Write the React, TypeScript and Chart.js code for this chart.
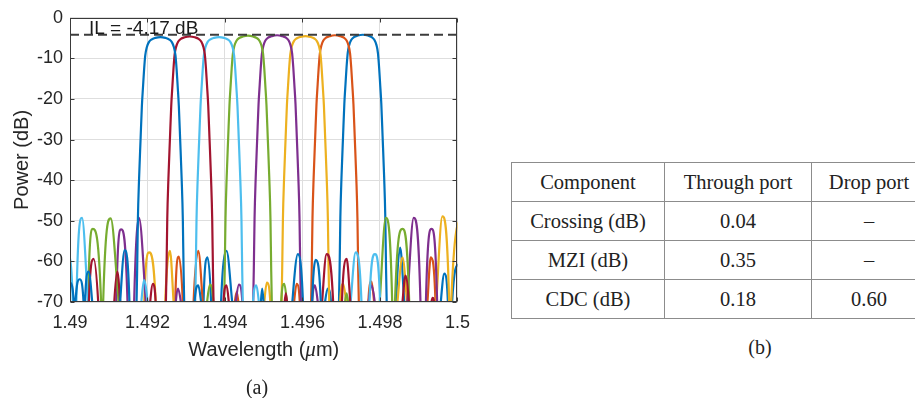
import { useEffect, useRef } from 'react';
import { Chart, registerables } from 'chart.js';

Chart.register(...registerables);

// ---------- axes ----------
const xTickValues = [1.49, 1.492, 1.494, 1.496, 1.498, 1.5];
const xTickLabels = ['1.49', '1.492', '1.494', '1.496', '1.498', '1.5'];
const yTickValues = [-70, -60, -50, -40, -30, -20, -10, 0];
const yTickLabels = ['-70', '-60', '-50', '-40', '-30', '-20', '-10', '0'];

// ---------- insertion-loss reference ----------
const insertionLossDb = -4.17;
const ilLineX = [1.49, 1.5];
const ilLabel = 'IL = -4.17 dB';

// ---------- channels (drawing order: first is on top) ----------
const channelColors = ['#0072BD', '#A2142F', '#4DBEEE', '#77AC30', '#7E2F8E', '#EDB120', '#D95319', '#0072BD'];
const channelCenters = [1.492332, 1.49309, 1.493845, 1.494593, 1.495343, 1.496075, 1.496838, 1.497557];
const channelPeaks = [-4.75, -4.6, -4.75, -4.4, -4.3, -4.5, -4.3, -4.17];

// main-lobe profile (offset from centre in µm, level relative to peak in dB)
const mainLobeOffsets = [0, 0.00013, 0.00023, 0.0003, 0.00035, 0.00039, 0.00042, 0.000446, 0.000477, 0.00051, 0.00055, 0.00058, 0.0006, 0.00062];
const mainLobeRelDb = [0, -0.2, -0.6, -1.3, -2.5, -4.5, -8, -12, -17, -25, -35, -45, -58, -68];

// side lobes: [left foot, peak wavelength, peak dB, right foot]
const sideLobesCh1 = [
  [1.4899, 1.49, -65.3, 1.49011],
  [1.49013, 1.49025, -64.4, 1.49036],
  [1.49038, 1.49048, -62.5, 1.49059],
  [1.49128, 1.49141, -57.2, 1.49154],
  [1.4932, 1.49331, -65.9, 1.49341],
  [1.49491, 1.49496, -66.7, 1.49501],
  [1.49572, 1.49588, -58.2, 1.49602],
  [1.49624, 1.49634, -59.6, 1.49648],
];
const sideLobesCh2 = [
  [1.49048, 1.49061, -59.4, 1.49074],
  [1.49113, 1.49122, -62.5, 1.49131],
  [1.49205, 1.49214, -65.5, 1.49222],
  [1.49395, 1.49404, -65.9, 1.49412],
  [1.49552, 1.49557, -67.9, 1.49562],
  [1.49649, 1.49662, -58.2, 1.4968],
  [1.49701, 1.49714, -59.4, 1.49725],
  [1.49856, 1.49866, -63.5, 1.49876],
  [1.4993, 1.49936, -69, 1.49941],
];
const sideLobesCh3 = [
  [1.48985, 1.48995, -58.5, 1.49008],
  [1.49016, 1.49031, -49.3, 1.49048],
  [1.49182, 1.49191, -64.6, 1.49203],
  [1.49471, 1.49481, -65.9, 1.4949],
  [1.49722, 1.49737, -57.8, 1.49753],
  [1.49772, 1.49787, -58.2, 1.49801],
];
const sideLobesCh4 = [
  [1.49046, 1.49059, -52, 1.49081],
  [1.49085, 1.49105, -49.4, 1.49128],
  [1.49351, 1.49361, -65.7, 1.49371],
  [1.49544, 1.49553, -65.5, 1.49562],
  [1.49707, 1.49714, -67.9, 1.4972],
  [1.49798, 1.49815, -49.3, 1.49832],
  [1.49838, 1.49858, -52, 1.49876],
];
const sideLobesCh5 = [
  [1.49119, 1.49132, -52.1, 1.49149],
  [1.49165, 1.49178, -49.3, 1.49197],
  [1.49271, 1.49279, -66.7, 1.49289],
  [1.49425, 1.49436, -65.7, 1.49446],
  [1.49624, 1.49632, -65.9, 1.49642],
  [1.49768, 1.49778, -65.9, 1.49789],
  [1.49869, 1.49887, -49.3, 1.49905],
  [1.49918, 1.49933, -52, 1.49948],
];
const sideLobesCh6 = [
  [1.49191, 1.49204, -57.8, 1.49222],
  [1.49245, 1.49258, -57.4, 1.49269],
  [1.49499, 1.49508, -65.2, 1.49518],
  [1.49696, 1.49705, -65.5, 1.49715],
  [1.49843, 1.49858, -59, 1.49871],
  [1.49944, 1.49961, -48.9, 1.49979],
  [1.49983, 1.5001, -50, 1.50035],
];
const sideLobesCh7 = [
  [1.49271, 1.49281, -58.8, 1.49292],
  [1.49318, 1.49331, -57.4, 1.49344],
  [1.49423, 1.4943, -67.5, 1.49437],
  [1.49576, 1.49585, -65.5, 1.49594],
  [1.49769, 1.49778, -65, 1.49787],
  [1.49921, 1.49931, -59, 1.49944],
];
const sideLobesCh8 = [
  [1.49344, 1.49355, -59, 1.49365],
  [1.49389, 1.49404, -57.4, 1.49421],
  [1.49655, 1.49665, -66.7, 1.49675],
  [1.49841, 1.49852, -56.6, 1.49864],
  [1.49955, 1.49966, -63, 1.49976],
  [1.49985, 1.50003, -60.8, 1.5002],
];
const sideLobes = [sideLobesCh1, sideLobesCh2, sideLobesCh3, sideLobesCh4, sideLobesCh5, sideLobesCh6, sideLobesCh7, sideLobesCh8];

// ---------- table ----------
const tableHeader = ['Component', 'Through port', 'Drop port'];
const tableRows = [
  ['Crossing (dB)', '0.04', '–'],
  ['MZI (dB)', '0.35', '–'],
  ['CDC (dB)', '0.18', '0.60'],
];

const FOOT_DB = -72;
const NULL_DB = -120;

type Pt = { x: number; y: number };

function channelPoints(ch: number): Pt[] {
  const c = channelCenters[ch];
  const p = channelPeaks[ch];
  const main: Pt[] = [];
  for (let i = mainLobeOffsets.length - 1; i > 0; i--) main.push({ x: c - mainLobeOffsets[i], y: p + mainLobeRelDb[i] });
  for (let i = 0; i < mainLobeOffsets.length; i++) main.push({ x: c + mainLobeOffsets[i], y: p + mainLobeRelDb[i] });
  const groups: Pt[][] = sideLobes[ch].map(([a, px, py, b]) => [
    { x: a, y: FOOT_DB },
    { x: px, y: py },
    { x: b, y: FOOT_DB },
  ]);
  groups.push(main);
  groups.sort((g1, g2) => g1[0].x - g2[0].x);
  const pts: Pt[] = [];
  groups.forEach((g, i) => {
    if (i === 0) pts.push({ x: g[0].x - 0.00003, y: NULL_DB });
    else {
      const prev = groups[i - 1];
      pts.push({ x: (prev[prev.length - 1].x + g[0].x) / 2, y: NULL_DB });
    }
    pts.push(...g);
  });
  const last = groups[groups.length - 1];
  pts.push({ x: last[last.length - 1].x + 0.00003, y: NULL_DB });
  return pts;
}

const SANS = '"Liberation Sans", Arial, Helvetica, sans-serif';
const SERIF = '"Liberation Serif", "Times New Roman", serif';

const framePlugin = {
  id: 'matlabFrame',
  afterDatasetsDraw(chart: any) {
    const { ctx, chartArea } = chart;
    const { left, right, top, bottom } = chartArea;
    const xs = chart.scales.x;
    const ys = chart.scales.y;
    ctx.save();
    ctx.strokeStyle = '#3a3a3a';
    ctx.lineWidth = 1;
    const L = Math.round(left) + 0.5;
    const R = Math.round(right) - 0.5;
    const T = Math.round(top) + 0.5;
    const B = Math.round(bottom) - 0.5;
    ctx.strokeRect(L, T, R - L, B - T);
    ctx.beginPath();
    xTickValues.forEach((v) => {
      const px = Math.round(xs.getPixelForValue(v)) + 0.5;
      ctx.moveTo(px, B);
      ctx.lineTo(px, B - 4);
      ctx.moveTo(px, T);
      ctx.lineTo(px, T + 4);
    });
    yTickValues.forEach((v) => {
      const py = Math.round(ys.getPixelForValue(v)) + 0.5;
      ctx.moveTo(L, py);
      ctx.lineTo(L + 4, py);
      ctx.moveTo(R, py);
      ctx.lineTo(R - 4, py);
    });
    ctx.stroke();

    // IL annotation
    ctx.font = `19px ${SANS}`;
    ctx.fillStyle = '#1a1a1a';
    ctx.textAlign = 'left';
    ctx.textBaseline = 'alphabetic';
    ctx.fillText(ilLabel, left + 19, ys.getPixelForValue(insertionLossDb) - 1);

    // x-axis title with italic mu
    const parts = [
      { t: 'Wavelength (', f: `20px ${SANS}` },
      { t: 'μ', f: `italic 21px ${SERIF}` },
      { t: 'm)', f: `20px ${SANS}` },
    ];
    let total = 0;
    parts.forEach((p) => {
      ctx.font = p.f;
      total += ctx.measureText(p.t).width;
    });
    let cx = (left + right) / 2 - total / 2;
    const by = bottom + 54;
    ctx.fillStyle = '#262626';
    parts.forEach((p) => {
      ctx.font = p.f;
      ctx.fillText(p.t, cx, by);
      cx += ctx.measureText(p.t).width;
    });
    ctx.restore();
  },
};

function ChartCanvas() {
  const ref = useRef<HTMLCanvasElement | null>(null);
  useEffect(() => {
    if (!ref.current) return;
    const datasets: any[] = [
      {
        data: ilLineX.map((x) => ({ x, y: insertionLossDb })),
        borderColor: '#3c3c3c',
        borderWidth: 2,
        borderDash: [9, 5],
        pointRadius: 0,
        tension: 0,
        fill: false,
      },
    ];
    channelColors.forEach((col, i) => {
      datasets.push({
        data: channelPoints(i),
        borderColor: col,
        borderWidth: 2.2,
        pointRadius: 0,
        cubicInterpolationMode: 'monotone',
        fill: false,
      });
    });
    const chart = new Chart(ref.current, {
      type: 'line',
      data: { datasets },
      options: {
        animation: false,
        responsive: false,
        maintainAspectRatio: false,
        layout: { padding: { left: 0, top: 14, right: 22, bottom: 0 } },
        plugins: { legend: { display: false }, tooltip: { enabled: false } },
        scales: {
          x: {
            type: 'linear',
            min: 1.49,
            max: 1.5,
            afterBuildTicks: (s: any) => {
              s.ticks = xTickValues.map((v) => ({ value: v }));
            },
            afterFit: (s: any) => {
              s.height = 96;
            },
            ticks: {
              callback: (_v: any, i: number) => xTickLabels[i],
              font: { family: SANS, size: 18 },
              color: '#262626',
              padding: 10,
              maxRotation: 0,
              autoSkip: false,
            },
            grid: { color: '#dedede', lineWidth: 1, drawTicks: false },
            border: { display: false },
          },
          y: {
            type: 'linear',
            min: -70,
            max: 0,
            afterBuildTicks: (s: any) => {
              s.ticks = yTickValues.map((v) => ({ value: v }));
            },
            afterFit: (s: any) => {
              s.width = 70;
            },
            ticks: {
              callback: (_v: any, i: number) => yTickLabels[i],
              font: { family: SANS, size: 18 },
              color: '#262626',
              padding: 7,
              autoSkip: false,
            },
            grid: { color: '#dedede', lineWidth: 1, drawTicks: false },
            border: { display: false },
            title: {
              display: true,
              text: 'Power (dB)',
              font: { family: SANS, size: 20 },
              color: '#262626',
              padding: { top: 10, bottom: 0 },
            },
          },
        },
      },
      plugins: [framePlugin],
    });
    return () => chart.destroy();
  }, []);
  return (
    <canvas
      ref={ref}
      width={480}
      height={398}
      style={{ position: 'absolute', left: 0, top: 0, width: 480, height: 398 }}
    />
  );
}

const cellStyle: any = {
  border: '1px solid #8c8c8c',
  textAlign: 'center',
  verticalAlign: 'middle',
  padding: 0,
  height: 38,
};

export default function App() {
  return (
    <div
      style={{
        position: 'fixed',
        left: 0,
        top: 0,
        width: 915,
        height: 398,
        overflow: 'hidden',
        background: '#ffffff',
      }}
    >
      <ChartCanvas />
      <div
        style={{
          position: 'absolute',
          left: 227,
          top: 375,
          width: 60,
          textAlign: 'center',
          fontFamily: SERIF,
          fontSize: 20,
          lineHeight: '24px',
          color: '#222',
        }}
      >
        (a)
      </div>
      <table
        style={{
          position: 'absolute',
          left: 511,
          top: 162,
          borderCollapse: 'collapse',
          fontFamily: SERIF,
          fontSize: 20.5,
          color: '#222',
          tableLayout: 'fixed',
          width: 415,
        }}
      >
        <colgroup>
          <col style={{ width: 153 }} />
          <col style={{ width: 147 }} />
          <col style={{ width: 115 }} />
        </colgroup>
        <tbody>
          <tr>
            {tableHeader.map((h) => (
              <td key={h} style={cellStyle}>
                {h}
              </td>
            ))}
          </tr>
          {tableRows.map((r) => (
            <tr key={r[0]}>
              {r.map((c, j) => (
                <td key={j} style={cellStyle}>
                  {c}
                </td>
              ))}
            </tr>
          ))}
        </tbody>
      </table>
      <div
        style={{
          position: 'absolute',
          left: 730,
          top: 335,
          width: 60,
          textAlign: 'center',
          fontFamily: SERIF,
          fontSize: 20,
          lineHeight: '24px',
          color: '#222',
        }}
      >
        (b)
      </div>
    </div>
  );
}
